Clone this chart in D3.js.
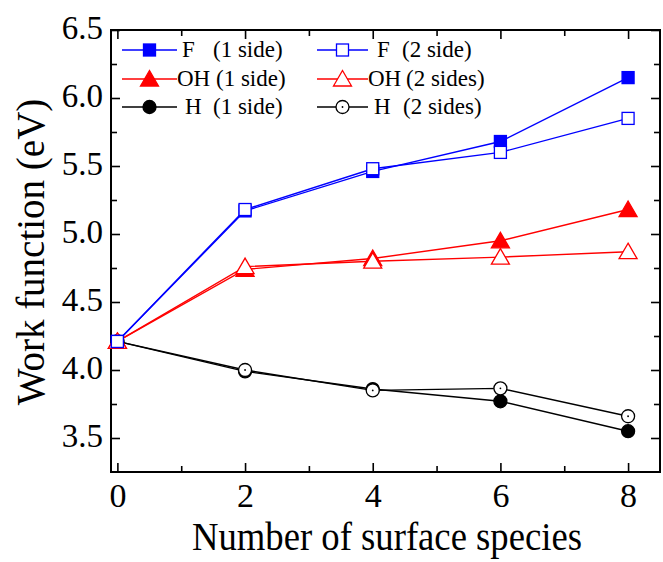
<!DOCTYPE html>
<html>
<head>
<meta charset="utf-8">
<script src="https://cdn.jsdelivr.net/npm/d3@7"></script>
<style>
  body { margin: 0; background: #fff; }
</style>
</head>
<body>
<div id="chart"></div>
<script>
const width = 663;
const height = 562;
const serif = "Liberation Serif";

// values
const species = [0, 2, 4, 6, 8];
const f1 = [4.21, 5.17, 5.46, 5.68, 6.15];
const f2 = [4.21, 5.18, 5.48, 5.60, 5.85];
const oh1 = [4.21, 4.74, 4.82, 4.95, 5.18];
const oh2 = [4.21, 4.76, 4.80, 4.83, 4.87];
const h1 = [4.21, 3.99, 3.86, 3.77, 3.55];
const h2 = [4.21, 4.00, 3.85, 3.865, 3.66];

const xTicks = [0, 2, 4, 6, 8];
const yTicks = [3.5, 4.0, 4.5, 5.0, 5.5, 6.0, 6.5];

const seriesNames = ["F", "F", "OH", "OH", "H", "H"];
const seriesNotes = ["(1 side)", "(2 side)", "(1 side)", "(2 sides)", "(1 side)", "(2 sides)"];

const series = [
  { name: seriesNames[0], note: seriesNotes[0], values: f1, color: "#0000ff", shape: "square", filled: true },
  { name: seriesNames[1], note: seriesNotes[1], values: f2, color: "#0000ff", shape: "square", filled: false },
  { name: seriesNames[2], note: seriesNotes[2], values: oh1, color: "#ff0000", shape: "triangle", filled: true },
  { name: seriesNames[3], note: seriesNotes[3], values: oh2, color: "#ff0000", shape: "triangle", filled: false },
  { name: seriesNames[4], note: seriesNotes[4], values: h1, color: "#000000", shape: "circle", filled: true },
  { name: seriesNames[5], note: seriesNotes[5], values: h2, color: "#000000", shape: "circle", filled: false }
];

const margin = { top: 30, right: 3, bottom: 90, left: 111 };
const plotW = width - margin.left - margin.right;
const plotH = height - margin.top - margin.bottom;

const svg = d3.select("#chart")
  .append("svg")
  .attr("width", width)
  .attr("height", height);

const x = d3.scaleLinear().domain([-0.1, 8.5]).range([0, plotW]);
const y = d3.scaleLinear().domain([3.25, 6.5]).range([plotH, 0]);

const g = svg.append("g").attr("transform", `translate(${margin.left},${margin.top})`);

// axes, ticks pointing inward, mirrored on top/right
const xMinor = d3.range(1, 9, 2);
const yMinor = d3.range(3.75, 6.5, 0.5);

function styleAxis(sel, size) {
  sel.attr("font-family", serif).attr("font-size", size || 33);
  sel.select(".domain").remove();
  sel.selectAll("line").attr("stroke", "#000").attr("stroke-width", 1.6);
  sel.selectAll("text").attr("font-family", serif).attr("font-size", size || 33).attr("fill", "#000");
}

g.append("g")
  .attr("transform", `translate(0,${plotH})`)
  .call(d3.axisBottom(x).tickValues(xTicks).tickSize(-9).tickPadding(11).tickFormat(d3.format("d")))
  .call(styleAxis, 34);
g.append("g")
  .attr("transform", `translate(0,${plotH})`)
  .call(d3.axisBottom(x).tickValues(xMinor).tickSize(-6).tickFormat(""))
  .call(styleAxis);
g.append("g")
  .call(d3.axisTop(x).tickValues(xTicks).tickSize(-9).tickFormat(""))
  .call(styleAxis);
g.append("g")
  .call(d3.axisTop(x).tickValues(xMinor).tickSize(-6).tickFormat(""))
  .call(styleAxis);

const yAxis = g.append("g")
  .call(d3.axisLeft(y).tickValues(yTicks).tickSize(-9).tickPadding(8).tickFormat(d3.format(".1f")))
  .call(styleAxis, 33);
yAxis.selectAll("text").attr("dy", "0.25em");
g.append("g")
  .call(d3.axisLeft(y).tickValues(yMinor).tickSize(-6).tickFormat(""))
  .call(styleAxis);
g.append("g")
  .attr("transform", `translate(${plotW},0)`)
  .call(d3.axisRight(y).tickValues(yTicks).tickSize(-9).tickFormat(""))
  .call(styleAxis);
g.append("g")
  .attr("transform", `translate(${plotW},0)`)
  .call(d3.axisRight(y).tickValues(yMinor).tickSize(-6).tickFormat(""))
  .call(styleAxis);

g.append("rect")
  .attr("width", plotW)
  .attr("height", plotH)
  .attr("fill", "none")
  .attr("stroke", "#000")
  .attr("stroke-width", 2);

// marker drawing
function drawMarker(sel, s) {
  if (s.shape === "square") {
    sel.append("rect")
      .attr("x", -6).attr("y", -6).attr("width", 12).attr("height", 12)
      .attr("fill", s.filled ? s.color : "#fff")
      .attr("stroke", s.color).attr("stroke-width", 1.3);
  } else if (s.shape === "triangle") {
    sel.append("path")
      .attr("d", "M0,-8.5L9,7L-9,7Z")
      .attr("fill", s.filled ? s.color : "#fff")
      .attr("stroke", s.color).attr("stroke-width", 1.3);
  } else {
    sel.append("circle")
      .attr("r", 6.5)
      .attr("fill", s.filled ? s.color : "#fff")
      .attr("stroke", s.color).attr("stroke-width", 1.3);
    if (!s.filled) {
      sel.append("circle").attr("r", 0.9).attr("fill", s.color);
    }
  }
}

const line = d3.line()
  .x((d, i) => x(species[i]))
  .y(d => y(d));

// lines first (H, OH, F from back to front), then markers
const drawOrder = [4, 5, 2, 3, 0, 1];
drawOrder.forEach(k => {
  const s = series[k];
  g.append("path")
    .datum(s.values)
    .attr("d", line)
    .attr("fill", "none")
    .attr("stroke", s.color)
    .attr("stroke-width", 1.4);
});
drawOrder.forEach(k => {
  const s = series[k];
  g.selectAll(null)
    .data(s.values)
    .join("g")
    .attr("transform", (d, i) => `translate(${x(species[i])},${y(d)})`)
    .each(function () { drawMarker(d3.select(this), s); });
});

// legend (two columns, Origin-like spacing)
const legendRowY = [50, 79, 107];
const legendColX = [122, 317];
const legendLineLen = [55, 51];
const nameOffset = [[60, 55, 63], [60, 51, 57]];
const noteOffset = [[91, 94, 91], [85, 89, 86]];
series.forEach((s, k) => {
  const col = k % 2;
  const row = Math.floor(k / 2);
  const lx = legendColX[col];
  const ly = legendRowY[row];
  const lg = svg.append("g");
  lg.append("line")
    .attr("x1", lx).attr("x2", lx + legendLineLen[col])
    .attr("y1", ly).attr("y2", ly)
    .attr("stroke", s.color).attr("stroke-width", 1.3);
  const m = lg.append("g").attr("transform", `translate(${lx + legendLineLen[col] / 2},${ly})`);
  drawMarker(m, s);
  lg.append("text")
    .attr("x", lx + nameOffset[col][row])
    .attr("y", ly + 7)
    .attr("font-family", serif)
    .attr("font-size", 23)
    .text(s.name);
  lg.append("text")
    .attr("x", lx + noteOffset[col][row])
    .attr("y", ly + 7)
    .attr("font-family", serif)
    .attr("font-size", 23)
    .text(s.note);
});

// axis titles
svg.append("text")
  .attr("x", 192)
  .attr("y", 550)
  .attr("font-family", serif)
  .attr("font-size", 39)
  .attr("textLength", 390)
  .attr("lengthAdjust", "spacingAndGlyphs")
  .text("Number of surface species");

svg.append("text")
  .attr("transform", `translate(44,252) rotate(-90)`)
  .attr("text-anchor", "middle")
  .attr("font-family", serif)
  .attr("font-size", 39)
  .text("Work function (eV)");
</script>
</body>
</html>
